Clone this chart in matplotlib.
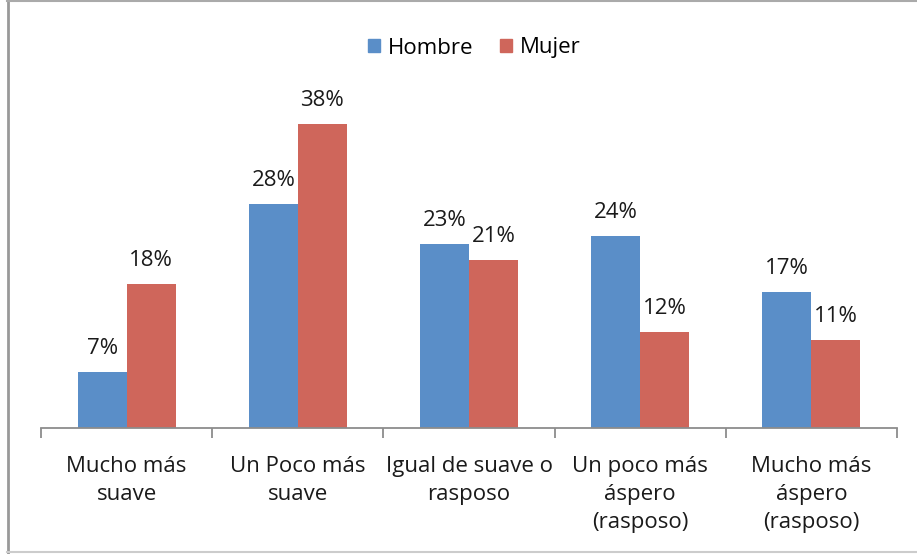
import matplotlib
matplotlib.use("Agg")
import matplotlib.pyplot as plt
import numpy as np
from matplotlib.lines import Line2D

categories = ["Mucho más\nsuave", "Un Poco más\nsuave", "Igual de suave o\nrasposo",
              "Un poco más\náspero\n(rasposo)", "Mucho más\náspero\n(rasposo)"]
hombre = [7, 28, 23, 24, 17]
mujer = [18, 38, 21, 12, 11]
series_names = ["Hombre", "Mujer"]

blue = "#5A8EC8"
red = "#CF665B"
font = ["Open Sans", "DejaVu Sans"]
plt.rcParams['font.family'] = font
fs = 16

W, H = 917, 554
fig = plt.figure(figsize=(W / 100, H / 100), dpi=100)

left, right, bottom_px, top_px = 41, 897, 428, 108
ax = fig.add_axes([left / W, (H - bottom_px) / H, (right - left) / W, (bottom_px - top_px) / H])

x = np.arange(len(categories))
bw = 0.286
b1 = ax.bar(x - bw / 2, hombre, bw, color=blue, label=series_names[0])
b2 = ax.bar(x + bw / 2, mujer, bw, color=red, label=series_names[1])

for bars, vals in ((b1, hombre), (b2, mujer)):
    for rect, v in zip(bars, vals):
        ax.annotate(f"{v}%", (rect.get_x() + rect.get_width() / 2, rect.get_height()),
                    xytext=(0, 23), textcoords="offset pixels", ha="center", va="center",
                    fontsize=fs, color="#1a1a1a", annotation_clip=False)

ax.set_xlim(-0.5, len(categories) - 0.5)
ax.set_ylim(0, 40)
for s in ("top", "right", "left"):
    ax.spines[s].set_visible(False)
ax.spines["bottom"].set_color("#8c8c8c")
ax.spines["bottom"].set_linewidth(1.3)
ax.set_yticks([])
ax.set_xticks(np.arange(-0.5, len(categories), 1.0))
ax.set_xticklabels([])
ax.tick_params(axis="x", length=7, width=1.3, color="#8c8c8c", direction="out")
ax.set_xticks(x, minor=True)
ax.set_xticklabels(categories, minor=True, fontsize=fs, color="#1a1a1a", linespacing=1.45, va="top")
ax.tick_params(axis="x", which="minor", length=0, pad=20)

handles = [plt.Rectangle((0, 0), 1, 1, color=blue), plt.Rectangle((0, 0), 1, 1, color=red)]
fig.legend(handles, series_names, loc="center", bbox_to_anchor=(474 / W, 1 - 48 / H),
           ncol=2, frameon=False, fontsize=fs, handlelength=0.55, handleheight=0.55,
           handletextpad=0.35, columnspacing=1.2)

# figure border (left, top, bottom)
fig.add_artist(Line2D([7.5 / W, 7.5 / W], [0, 1], transform=fig.transFigure, color="#999999", lw=2))
fig.add_artist(Line2D([7 / W, 1], [1 - 1 / H, 1 - 1 / H], transform=fig.transFigure, color="#aaaaaa", lw=1.5))
fig.add_artist(Line2D([7 / W, 1], [1 - 552 / H, 1 - 552 / H], transform=fig.transFigure, color="#cccccc", lw=1.5))

fig.savefig("out.png", dpi=100)
